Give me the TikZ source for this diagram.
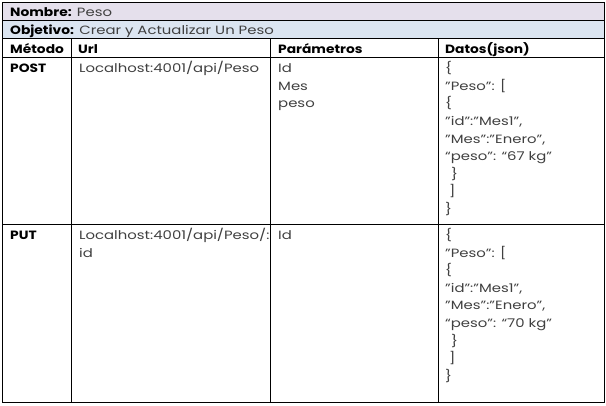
\documentclass[tikz,border=0pt]{standalone}
\usepackage{fontspec}
\setmainfont{Poppins}[FakeStretch=1.24,BoldFeatures={FakeStretch=1.15}]
\definecolor{lila}{HTML}{E5E0EC}
\definecolor{hellblau}{HTML}{DBE5F1}
\definecolor{textgrau}{HTML}{404040}
\begin{document}
\begin{tikzpicture}[x=1pt,y=-1pt,
	txt/.style={anchor=base west,inner sep=0pt,text=textgrau,align=left,font=\fontsize{12}{17.6}\selectfont},
	kopf/.style={txt,text=black,font=\fontsize{12}{17.6}\selectfont\bfseries},
	linie/.style={line width=1pt}]
	\useasboundingbox (0,0) rectangle (606,406);

	% Hintergrund der oberen Zeilen
	\fill[lila] (2,3) rectangle (604,21);
	\fill[hellblau] (2,21) rectangle (604,39);

	% Tabelle zeichnen
	\draw[linie] (2,3) rectangle (604,403); % Rahmen
	\foreach \y in {21,39,58,225} \draw[linie] (2,\y) -- (604,\y); % Zeilen
	\foreach \x in {71,270,438} \draw[linie] (\x,39) -- (\x,403); % Spalten

	% Kopf
	\node[txt] (nombre) at (10,17) {\textcolor{black}{\bfseries Nombre:} Peso};
	\node[txt] (objetivo) at (10,35) {\textcolor{black}{\bfseries Objetivo:} Crear y Actualizar Un Peso};
	\node[kopf] (metodo) at (10,54) {Método};
	\node[kopf] (url) at (78,54) {Url};
	\node[kopf] (parametros) at (278,54) {Parámetros};
	\node[kopf] (datos) at (445,54) {Datos(json)};

	% Zeile POST (base = letzte Zeile)
	\node[kopf] (post) at (10,72.7) {POST};
	\node[txt] (urlpost) at (79,72.7) {Localhost:4001/api/Peso};
	\node[txt] (parpost) at (278,107.9) {Id\\Mes\\peso};
	\node[txt] (jsonpost) at (445,213.5) {\{\\"Peso": [\\\{\\"id":"Mes1",\\"Mes":"Enero",\\“peso": “67 kg"\\\hspace{6pt}\}\\\hspace{4pt}]\\\}};

	% Zeile PUT
	\node[kopf] (put) at (10,239.5) {PUT};
	\node[txt] (urlput) at (79,257.1) {Localhost:4001/api/Peso/:\\id};
	\node[txt] (parput) at (278,239.5) {Id};
	\node[txt] (jsonput) at (445,380.3) {\{\\"Peso": [\\\{\\"id":"Mes1",\\"Mes":"Enero",\\“peso": “70 kg"\\\hspace{6pt}\}\\\hspace{4pt}]\\\}};
\end{tikzpicture}
\end{document}
